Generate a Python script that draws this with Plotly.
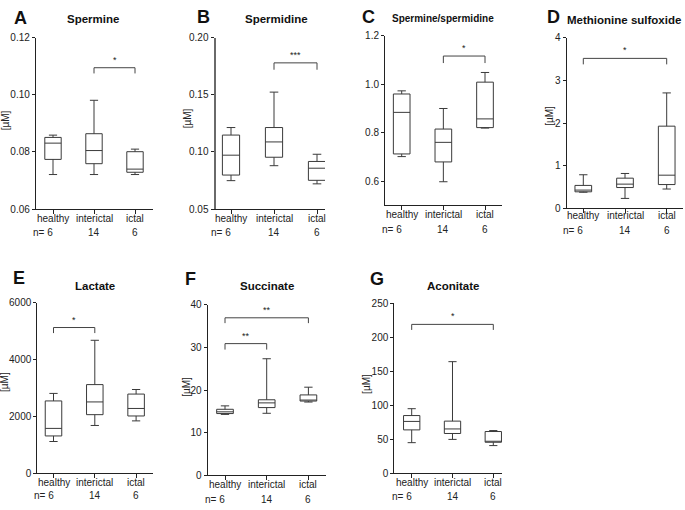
import plotly.graph_objects as go

# ---------------- data ----------------
groups = ["healthy", "interictal", "ictal"]
n_labels = ["n= 6", "14", "6"]

spermine_lo = [0.0721, 0.0721, 0.0721]
spermine_q1 = [0.0774, 0.0759, 0.0729]
spermine_med = [0.0831, 0.0805, 0.0740]
spermine_q3 = [0.0851, 0.0864, 0.0801]
spermine_hi = [0.0859, 0.0981, 0.0810]

spermidine_lo = [0.0749, 0.0880, 0.0721]
spermidine_q1 = [0.0798, 0.0954, 0.0752]
spermidine_med = [0.0972, 0.1088, 0.0858]
spermidine_q3 = [0.1148, 0.1214, 0.0917]
spermidine_hi = [0.1214, 0.1524, 0.0980]

ratio_lo = [0.701, 0.597, 0.819]
ratio_q1 = [0.712, 0.679, 0.821]
ratio_med = [0.884, 0.760, 0.857]
ratio_q3 = [0.960, 0.815, 1.009]
ratio_hi = [0.973, 0.900, 1.049]

metsulf_lo = [0.38, 0.235, 0.455]
metsulf_q1 = [0.39, 0.49, 0.56]
metsulf_med = [0.43, 0.57, 0.78]
metsulf_q3 = [0.54, 0.71, 1.93]
metsulf_hi = [0.79, 0.82, 2.71]

lactate_lo = [1112, 1677, 1839]
lactate_q1 = [1308, 2058, 2012]
lactate_med = [1574, 2507, 2277]
lactate_q3 = [2542, 3118, 2784]
lactate_hi = [2807, 4680, 2945]

succinate_lo = [14.3, 14.56, 17.2]
succinate_q1 = [14.5, 15.9, 17.43]
succinate_med = [14.9, 17.0, 17.66]
succinate_q3 = [15.5, 17.73, 18.87]
succinate_hi = [16.3, 27.35, 20.68]

aconitate_lo = [44.7, 49.5, 40.4]
aconitate_q1 = [63.5, 58.2, 45.3]
aconitate_med = [75.96, 64.9, 46.2]
aconitate_q3 = [84.6, 76.4, 61.1]
aconitate_hi = [94.7, 163.9, 62.5]

# significance brackets: (from group, to group, bar level, tick end, label)
spermine_sig = [(1, 2, 0.1095, 0.1075, "*")]
spermidine_sig = [(1, 2, 0.178, 0.172, "***")]
ratio_sig = [(1, 2, 1.117, 1.088, "*")]
metsulf_sig = [(0, 2, 3.52, 3.38, "*")]
lactate_sig = [(0, 1, 5130, 4934, "*")]
succinate_sig = [(0, 2, 36.95, 35.7, "**"), (0, 1, 30.9, 29.5, "**")]
aconitate_sig = [(0, 2, 218.75, 210.6, "*")]

# ---------------- layout helpers ----------------
W, H = 685, 510
FONT = "Liberation Sans, Arial, sans-serif"
DARK = "#222222"
BOXC = "#3a3a3a"

panels = [
    dict(letter="A", title="Spermine", tsize=11.5,
         stats=(spermine_lo, spermine_q1, spermine_med, spermine_q3, spermine_hi),
         sig=spermine_sig, yr=[0.06, 0.12], tv=[0.06, 0.08, 0.10, 0.12], tf=".2f",
         px=(35.8, 53, 41, 153, 32.5, 208), lx=20, ly=12, tx=93, ty=13, yl=(5, 117),
         catrow=217.3, nrow=232.3, ylw=1, ylc=DARK),
    dict(letter="B", title="Spermidine", tsize=11.5,
         stats=(spermidine_lo, spermidine_q1, spermidine_med, spermidine_q3, spermidine_hi),
         sig=spermidine_sig, yr=[0.05, 0.20], tv=[0.05, 0.10, 0.15, 0.20], tf=".2f",
         px=(215.5, 231, 43, 325, 32.5, 208), lx=203, ly=11, tx=276, ty=13, yl=(187, 115),
         catrow=218, nrow=232.3, ylw=2, ylc="#6a6a6a"),
    dict(letter="C", title="Spermine/spermidine", tsize=10,
         stats=(ratio_lo, ratio_q1, ratio_med, ratio_q3, ratio_hi),
         sig=ratio_sig, yr=[0.5, 1.2], tv=[0.6, 0.8, 1.0, 1.2], tf=".1f",
         px=(385, 401.7, 41.65, 502, 30.7, 204), lx=368, ly=11, tx=443, ty=13, yl=None,
         catrow=213.5, nrow=229.3, ylw=1, ylc=DARK),
    dict(letter="D", title="Methionine sulfoxide", tsize=11.5,
         stats=(metsulf_lo, metsulf_q1, metsulf_med, metsulf_q3, metsulf_hi),
         sig=metsulf_sig, yr=[0, 4], tv=[0, 1, 2, 3, 4], tf="d",
         px=(566.5, 583.3, 41.7, 683, 32.7, 207.3), lx=553, ly=11, tx=624, ty=14, yl=(549.5, 113),
         catrow=215, nrow=230, ylw=1, ylc=DARK),
    dict(letter="E", title="Lactate", tsize=11.5,
         stats=(lactate_lo, lactate_q1, lactate_med, lactate_q3, lactate_hi),
         sig=lactate_sig, yr=[0, 6000], tv=[0, 2000, 4000, 6000], tf="d",
         px=(37.3, 53.5, 41.3, 152.7, 304, 478.3), lx=19, ly=279, tx=95, ty=287, yl=(5, 385),
         catrow=488.3, nrow=501.7, ylw=1, ylc=DARK),
    dict(letter="F", title="Succinate", tsize=11.5,
         stats=(succinate_lo, succinate_q1, succinate_med, succinate_q3, succinate_hi),
         sig=succinate_sig, yr=[0, 40], tv=[0, 10, 20, 30, 40], tf="d",
         px=(207.5, 225, 41.7, 326, 306, 480.7), lx=190, ly=280, tx=267, ty=287, yl=(187, 390),
         catrow=490, nrow=505, ylw=1, ylc=DARK),
    dict(letter="G", title="Aconitate", tsize=11.5,
         stats=(aconitate_lo, aconitate_q1, aconitate_med, aconitate_q3, aconitate_hi),
         sig=aconitate_sig, yr=[0, 250], tv=[0, 50, 100, 150, 200, 250], tf="d",
         px=(394.3, 411.7, 40.8, 502.3, 304.3, 478.3), lx=377, ly=280, tx=453, ty=287, yl=(367, 387),
         catrow=487.5, nrow=502.3, ylw=1, ylc=DARK),
]

fig = go.Figure()
annotations = []
shapes = []


def fx(px):
    return px / W


def fy(py):
    return 1 - py / H


for i, p in enumerate(panels):
    k = "" if i == 0 else str(i + 1)
    xa, ya = "x" + k, "y" + k
    lo, q1, med, q3, hi = p["stats"]
    fig.add_trace(go.Box(
        x=[0, 1, 2], lowerfence=lo, q1=q1, median=med, q3=q3, upperfence=hi,
        xaxis=xa, yaxis=ya, width=0.4, whiskerwidth=0.5,
        line=dict(color=BOXC, width=1), fillcolor="rgba(0,0,0,0)",
        boxpoints=False, showlegend=False, hoverinfo="skip",
    ))
    axl, hx, unit, ex, ty_px, by_px = p["px"]
    xr = [(axl - hx) / unit, (ex - hx) / unit]
    fig.layout["xaxis" + k] = dict(
        domain=[fx(axl), fx(ex)], anchor=ya, range=xr,
        tickvals=[0, 1, 2], ticktext=["", "", ""], showline=True, linecolor=DARK, linewidth=1,
        ticks="outside", ticklen=4, tickcolor=DARK, showgrid=False, zeroline=False,
        tickfont=dict(family=FONT, size=10, color=DARK), fixedrange=True,
    )
    fig.layout["yaxis" + k] = dict(
        domain=[fy(by_px), fy(ty_px)], anchor=xa, range=p["yr"],
        tickvals=p["tv"], tickformat=p["tf"], showline=True, linecolor=p["ylc"], linewidth=p["ylw"],
        ticks="outside", ticklen=3, tickcolor=DARK, showgrid=False, zeroline=False,
        tickfont=dict(family=FONT, size=10, color=DARK), fixedrange=True,
    )
    # panel letter
    annotations.append(dict(x=fx(p["lx"]), y=fy(p["ly"]), xref="paper", yref="paper",
                            text="<b>%s</b>" % p["letter"], showarrow=False,
                            font=dict(family=FONT, size=18, color="#111"),
                            xanchor="center", yanchor="middle"))
    # title
    annotations.append(dict(x=fx(p["tx"]), y=fy(p["ty"]), xref="paper", yref="paper",
                            text="<b>%s</b>" % p["title"], showarrow=False,
                            font=dict(family=FONT, size=p["tsize"], color="#111"),
                            xanchor="center", yanchor="middle"))
    # y label
    if p["yl"] is not None:
        annotations.append(dict(x=fx(p["yl"][0]), y=fy(p["yl"][1]), xref="paper", yref="paper",
                                text="[µM]", textangle=-90, showarrow=False,
                                font=dict(family=FONT, size=10, color=DARK),
                                xanchor="center", yanchor="middle"))
    # category labels and n row
    for g in range(3):
        annotations.append(dict(x=g, y=fy(p["catrow"]), xref=xa, yref="paper", text=groups[g],
                                showarrow=False, font=dict(family=FONT, size=10, color=DARK),
                                xanchor="center", yanchor="middle"))
        annotations.append(dict(x=g, y=fy(p["nrow"]), xref=xa, yref="paper", text=n_labels[g],
                                showarrow=False, font=dict(family=FONT, size=10, color=DARK),
                                xanchor="right" if g == 0 else "center", yanchor="middle",
                                xshift=2 if g == 0 else 0))
    # significance brackets
    for (a, b, yb, yt, lab) in p["sig"]:
        shapes.append(dict(type="path", xref=xa, yref=ya,
                           path="M %s,%s L %s,%s L %s,%s L %s,%s" % (a, yt, a, yb, b, yb, b, yt),
                           line=dict(color="#444", width=1)))
        annotations.append(dict(x=(a + b) / 2, y=yb, xref=xa, yref=ya, text=lab, showarrow=False,
                                font=dict(family=FONT, size=9, color=DARK),
                                xanchor="center", yanchor="bottom", yshift=1))

fig.update_layout(
    width=W, height=H, margin=dict(l=0, r=0, t=0, b=0),
    paper_bgcolor="white", plot_bgcolor="white",
    annotations=annotations, shapes=shapes, showlegend=False,
    font=dict(family=FONT, size=10, color=DARK),
)

fig.write_html("out.html", post_script="document.body.style.margin='0px';document.body.style.overflow='hidden';",
               config={"displayModeBar": False})
